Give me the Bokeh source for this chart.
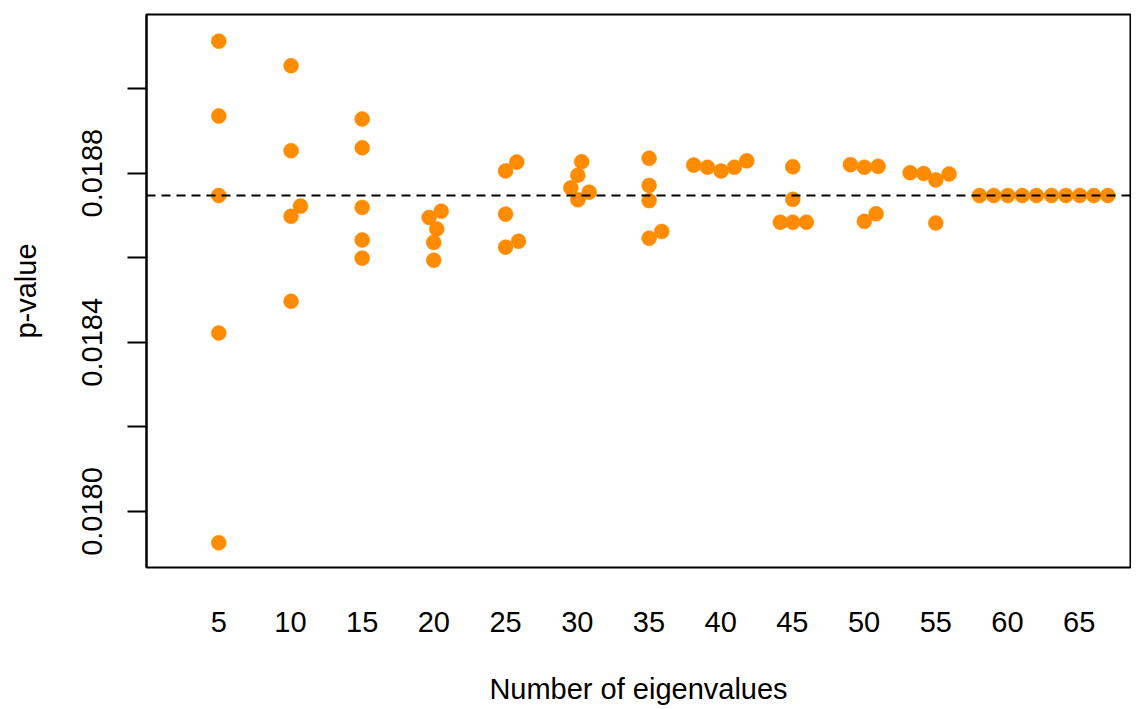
from bokeh.plotting import figure
from bokeh.models import Span, FixedTicker, ColumnDataSource
from bokeh.embed import file_html
from bokeh.resources import INLINE

# Number of eigenvalues (x, slightly spread within groups) and p-values (y)
eigen_x = [
    5.0, 5.0, 5.0, 5.0, 5.0,
    10.04, 10.04, 10.70, 10.04, 10.04,
    15.0, 15.0, 15.0, 15.0, 15.0,
    20.51, 19.67, 20.20, 19.99, 19.99,
    25.0, 25.78, 25.0, 25.0, 25.90,
    30.31, 30.04, 29.55, 30.83, 30.04,
    35.01, 35.01, 35.01, 35.01, 35.89,
    38.12, 39.08, 40.03, 40.96, 41.82,
    45.03, 45.03, 44.16, 45.03, 45.98,
    49.05, 50.02, 50.98, 50.02, 50.84,
    53.21, 54.16, 55.0, 55.93, 55.0,
    58.05, 59.04, 60.02, 61.03, 62.02, 63.07, 64.07, 65.04, 66.02, 67.0,
]
p_values = [
    0.019112, 0.018935, 0.018747, 0.018422, 0.017926,
    0.019054, 0.018853, 0.018722, 0.018698, 0.018497,
    0.018928, 0.018860, 0.018719, 0.018642, 0.018599,
    0.018710, 0.018695, 0.018668, 0.018636, 0.018594,
    0.018805, 0.018826, 0.018703, 0.018625, 0.018639,
    0.018827, 0.018795, 0.018765, 0.018755, 0.018737,
    0.018835, 0.018771, 0.018735, 0.018646, 0.018662,
    0.018819, 0.018814, 0.018805, 0.018814, 0.018829,
    0.018815, 0.018738, 0.018684, 0.018684, 0.018684,
    0.018820, 0.018814, 0.018816, 0.018686, 0.018704,
    0.018801, 0.018799, 0.018784, 0.018798, 0.018682,
    0.018747, 0.018747, 0.018747, 0.018747, 0.018747,
    0.018747, 0.018747, 0.018747, 0.018747, 0.018747,
]
reference_p = 0.018747

x_ticks = [5, 10, 15, 20, 25, 30, 35, 40, 45, 50, 55, 60, 65]
y_ticks = [0.0180, 0.0182, 0.0184, 0.0186, 0.0188, 0.0190]
y_tick_labels = {0.0180: "0.0180", 0.0182: "", 0.0184: "0.0184",
                 0.0186: "", 0.0188: "0.0188", 0.0190: ""}

FONT = "Liberation Sans"
FS = "29px"

p = figure(width=1131, height=709, output_backend="svg", toolbar_location=None,
           x_range=(-0.04, 68.58), y_range=(0.0178676, 0.019175),
           min_border_left=146, min_border_right=1, min_border_top=14,
           min_border_bottom=142)

p.grid.visible = False
p.outline_line_color = "black"
p.outline_line_width = 2
p.background_fill_color = "white"
p.border_fill_color = "white"

src = ColumnDataSource(dict(x=eigen_x, y=p_values))
p.scatter("x", "y", source=src, size=15, fill_color="#FF8C00",
          line_color="#FF8C00", line_width=0.5)

p.add_layout(Span(location=reference_p, dimension="width", line_color="black",
                  line_width=2, line_dash="9 6"))

# x axis: labels only
xa = p.xaxis[0]
xa.ticker = FixedTicker(ticks=x_ticks)
xa.axis_line_color = None
xa.major_tick_line_color = None
xa.minor_tick_line_color = None
xa.major_tick_out = 0
xa.major_label_standoff = 44
xa.major_label_text_font = FONT
xa.major_label_text_font_size = FS
xa.major_label_text_color = "black"
xa.axis_label = "Number of eigenvalues"
xa.axis_label_text_font = FONT
xa.axis_label_text_font_size = FS
xa.axis_label_text_font_style = "normal"
xa.axis_label_text_color = "black"
xa.axis_label_standoff = 38

# y axis
ya = p.yaxis[0]
ya.ticker = FixedTicker(ticks=y_ticks)
ya.major_label_overrides = y_tick_labels
ya.axis_line_color = "black"
ya.axis_line_width = 2
ya.major_tick_line_color = "black"
ya.major_tick_line_width = 2
ya.major_tick_out = 19
ya.major_tick_in = 0
ya.minor_tick_line_color = None
ya.major_label_orientation = "parallel"
ya.major_label_standoff = 25
ya.major_label_text_font = FONT
ya.major_label_text_font_size = FS
ya.major_label_text_color = "black"
ya.axis_label = "p-value"
ya.axis_label_text_font = FONT
ya.axis_label_text_font_size = FS
ya.axis_label_text_font_style = "normal"
ya.axis_label_text_color = "black"
ya.axis_label_standoff = 38

open("out.html", "w").write(file_html(p, INLINE))
